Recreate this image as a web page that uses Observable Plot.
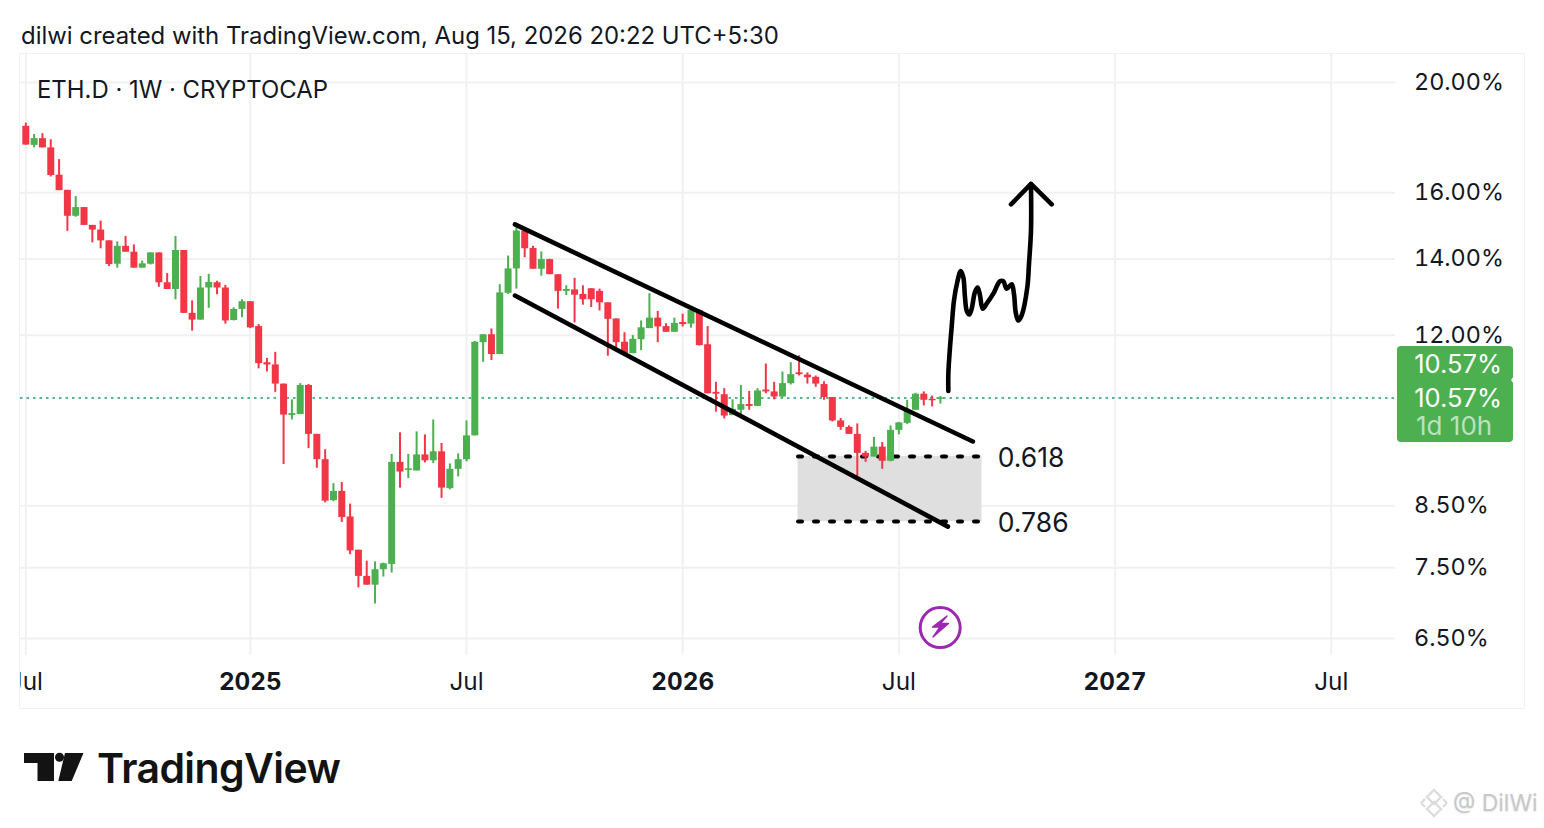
<!DOCTYPE html>
<html><head><meta charset="utf-8">
<script src="https://cdn.jsdelivr.net/npm/d3@7"></script>
<script src="https://cdn.jsdelivr.net/npm/@observablehq/plot@0.6"></script>
<style>
html,body{margin:0;padding:0;background:#fff;width:1544px;height:828px;overflow:hidden}
body{font-family:Inter,"Liberation Sans",sans-serif;color:#131722;position:relative}
.abs{position:absolute;white-space:nowrap}
#chart{left:20px;top:54px;width:1504px;height:654px;overflow:hidden}
#frame{left:19px;top:53px;width:1504px;height:654px;border:1px solid #f0f1f4;pointer-events:none}
#chart svg{overflow:hidden}
</style></head><body>
<div class="abs" style="left:21px;top:20px;font-size:23.9px;line-height:32px">dilwi created with TradingView.com, Aug 15, 2026 20:22 UTC+5:30</div>
<div class="abs" id="chart"></div>
<div class="abs" id="frame"></div>
<div class="abs" style="left:37px;top:74px;font-size:23.9px;line-height:32px">ETH.D · 1W · CRYPTOCAP</div>

<div class="abs" style="left:1397px;top:346px;width:116px;height:96px;background:#4caf50;border-radius:4px"></div>
<svg class="abs" style="left:1507px;top:374px" width="8" height="12"><path d="M7,2 L4,6 L7,10 Z" fill="#fff"/></svg>
<div class="abs" style="left:1397px;top:347px;width:105px;text-align:right;color:#fff;font-size:25.5px;line-height:34px">10.57%</div>
<div class="abs" style="left:1397px;top:381px;width:105px;text-align:right;color:#fff;font-size:25.5px;line-height:34px">10.57%</div>
<div class="abs" style="left:1416px;top:410px;color:rgba(255,255,255,.65);font-size:26px;line-height:32px">1d 10h</div>

<svg class="abs" style="left:920px;top:607px" width="40" height="40" viewBox="920 607 40 40"><path d="M947,616 L932.5,627 L940,627 L933,637 L948.5,623.5 L940.5,623.5 Z" fill="#9c27b0" stroke="#9c27b0" stroke-width="1.4" stroke-linejoin="round"/></svg>

<svg class="abs" style="left:20px;top:748px" width="70" height="38" viewBox="20 748 70 38"><path d="M24,753 H54 V781 H37.5 V763 H24 Z" fill="#131313"/><circle cx="59.5" cy="757.3" r="4.5" fill="#131313"/><path d="M65,753 H83.5 L71.7,781 H58.3 Z" fill="#131313"/></svg>
<div class="abs" style="left:97px;top:742px;font-size:41px;font-weight:600;line-height:52px;color:#131313;letter-spacing:-0.6px">TradingView</div>

<svg class="abs" style="left:1419px;top:788px" width="30" height="30" viewBox="0 0 30 30"><g fill="none" stroke="#dcdcdc" stroke-width="2.4"><path d="M15,2 L22,9 L15,16 L8,9 Z"/><path d="M15,14 L22,21 L15,28 L8,21 Z"/><path d="M2,15 L6,11 M2,15 L6,19 M28,15 L24,11 M28,15 L24,19"/></g></svg>
<div class="abs" style="left:1453px;top:788px;font-size:23px;line-height:30px;color:#c8c8c8;text-shadow:0 1px 2px #e4e4e4">@ DilWi</div>

<script>
// Weekly candles, percent dominance, first week starting 2024-07-01
const open = [
18.30,17.61,17.85,17.52,16.58,16.08,15.26,15.53,14.98,14.84,
14.52,13.85,14.36,14.19,13.74,13.85,14.17,13.34,13.16,14.24,
12.54,12.37,13.20,13.34,13.20,12.36,12.64,12.84,12.21,11.35,
11.30,10.87,10.20,10.22,10.84,9.82,9.33,8.59,8.75,8.31,
7.77,7.37,7.24,7.47,7.55,9.28,9.13,9.12,9.42,9.31,
9.48,8.80,9.15,9.33,9.79,11.82,12.01,11.54,13.06,13.72,
14.81,14.30,13.71,13.98,13.56,13.11,13.15,13.03,13.18,13.11,
12.81,12.40,11.83,11.56,11.89,12.16,12.42,12.21,12.07,12.31,
12.27,12.61,11.77,10.69,10.64,10.20,10.31,10.43,10.39,10.74,
10.70,10.59,10.88,11.12,11.07,11.02,10.86,10.58,10.09,9.96,
9.82,9.45,9.38,9.57,9.30,9.90,10.04,10.31,10.65,10.54,10.54];
const high = [
18.42,18.00,18.03,17.81,17.11,16.08,15.88,15.53,14.98,15.11,
14.52,14.49,14.65,14.40,13.94,14.17,14.17,13.59,14.65,14.24,
12.86,13.51,13.57,13.38,13.27,12.68,12.89,12.84,12.26,11.45,
11.59,10.87,10.53,10.88,10.86,9.82,9.52,8.89,8.91,8.53,
7.77,7.60,7.59,7.57,9.43,9.85,9.43,9.87,9.81,10.11,
9.64,9.25,9.44,10.09,11.85,12.01,12.15,13.29,14.08,14.98,
14.81,14.36,14.20,13.99,13.56,13.26,13.46,13.26,13.18,13.17,
12.81,12.40,12.06,11.99,12.35,13.05,12.59,12.28,12.42,12.52,
12.66,12.63,12.21,10.91,10.77,10.53,10.84,10.71,10.77,11.32,
10.91,11.14,11.35,11.51,11.12,11.05,10.92,10.58,10.14,9.99,
10.03,9.49,9.76,9.66,9.99,10.06,10.52,10.67,10.70,10.61,10.60];
const low = [
17.62,17.52,17.52,16.52,16.07,14.80,15.23,14.98,14.46,14.29,
13.79,13.74,14.19,13.74,13.74,13.83,13.22,13.16,12.89,12.54,
12.10,12.37,12.67,13.02,12.27,12.35,12.43,12.16,11.21,11.14,
10.69,9.24,10.11,10.22,9.54,9.17,8.55,8.57,8.22,7.70,
7.20,7.24,6.97,7.36,7.42,8.81,8.98,9.12,9.27,9.26,
8.63,8.78,9.01,9.29,9.79,11.36,11.40,11.54,13.03,13.17,
14.03,13.71,13.52,13.56,12.65,13.00,12.30,12.75,12.69,12.60,
11.50,11.69,11.56,11.56,11.63,12.16,11.82,12.07,12.07,12.20,
12.17,11.74,10.66,10.27,10.13,10.20,10.16,10.31,10.39,10.66,
10.53,10.57,10.85,11.05,10.87,10.80,10.52,10.07,9.90,9.82,
8.99,9.28,9.38,9.15,9.29,9.81,10.02,10.31,10.40,10.38,10.44];
const close = [
17.62,17.85,17.52,16.57,16.07,15.26,15.53,14.98,14.84,14.52,
13.84,14.36,14.19,13.74,13.86,14.17,13.34,13.16,14.24,12.54,
12.37,13.20,13.35,13.20,12.35,12.64,12.84,12.18,11.33,11.30,
10.87,10.21,10.24,10.84,9.82,9.33,8.58,8.75,8.30,7.76,
7.37,7.24,7.47,7.56,9.28,9.10,9.16,9.42,9.31,9.48,
8.81,9.15,9.33,9.79,11.83,12.01,11.54,13.07,13.72,14.81,
14.29,13.71,13.98,13.56,13.11,13.16,13.01,12.89,12.89,12.81,
12.39,11.82,11.56,11.90,12.18,12.42,12.20,12.07,12.29,12.26,
12.62,11.75,10.66,10.65,10.19,10.33,10.43,10.39,10.72,10.70,
10.59,10.88,11.08,11.08,11.01,10.87,10.58,10.09,9.96,9.82,
9.45,9.38,9.57,9.30,9.90,10.05,10.30,10.65,10.52,10.51,10.57];

const lastPrice = 10.57;
const yTicks = [20,16,14,12,8.5,7.5,6.5];
const monthTicks = ["2024-07-01","2025-07-07","2026-07-06","2027-07-05"];
const yearTicks = ["2025-01-06","2026-01-05","2027-01-04"];

// Drawing annotations, in weeks since the first candle and percent
const upperWeek = [58.83,113.9], upperPct = [15.01,9.68];
const lowerWeek = [58.83,110.9], lowerPct = [13.00,8.15];
const zoneWeek = [92.87,115.0], fib618 = 9.39, fib786 = 8.234, fibLabelWeek = 116.9;
const drawnWeek = [110.95,110.95,111.15,111.35,111.63,112.03,112.44,112.75,112.95,113.16,113.47,113.76,114.15,114.48,114.76,115.08,115.56,116.36,117.16,117.56,117.97,118.57,118.84,119.05,119.36,119.77,120.45,120.65,120.89,120.89];
const drawnPct = [10.72,11.10,11.71,12.20,12.87,13.36,13.66,13.49,12.96,12.61,12.51,12.66,13.09,13.21,13.00,12.66,12.79,13.05,13.38,13.38,13.18,13.30,13.05,12.57,12.36,12.49,13.22,13.86,14.83,16.29];
const headWeek = [118.49,120.89,123.38], headPct = [15.63,16.29,15.63];
const eventWeek = 109.97, eventPct = 6.645;

const WEEK = 7*864e5, T0 = Date.UTC(2024,6,1);
const wk = w => new Date(T0 + w*WEEK);
const d = s => new Date(s+"T00:00:00Z");

const candles = open.map((o,i)=>({date:wk(i),open:o,high:high[i],low:low[i],close:close[i]}));
const pts = (ws,ps) => ws.map((w,i)=>({x:wk(w),y:ps[i]}));
const RED="#f23645", GREEN="#4caf50", TXT="#131722", GRID="#f0f1f3";
const col = c => c.close>=c.open?GREEN:RED;
const label = t => { const s=t.toISOString(); return s.slice(5,7)==="07"?"Jul":s.slice(0,4); };

const plot = Plot.plot({
  width:1504, height:654, marginLeft:0, marginRight:129, marginTop:0, marginBottom:53,
  style:{fontFamily:'Inter,"Liberation Sans",sans-serif',background:"transparent"},
  x:{type:"utc",domain:[wk(-0.64),wk(164.73)]},
  y:{type:"log",domain:[6.281,21.16]},
  marks:[
    Plot.gridX([...monthTicks,...yearTicks].map(d),{stroke:GRID,strokeOpacity:1,strokeWidth:2}),
    Plot.gridY(yTicks,{stroke:GRID,strokeOpacity:1,strokeWidth:2}),
    Plot.rect([0],{x1:()=>wk(zoneWeek[0]),x2:()=>wk(zoneWeek[1]),y1:()=>fib618,y2:()=>fib786,fill:"#dfdfdf"}),
    Plot.line(pts(zoneWeek,[fib618,fib618]),{x:"x",y:"y",stroke:"#000",strokeWidth:4,strokeDasharray:"4 12"}),
    Plot.line(pts(zoneWeek,[fib786,fib786]),{x:"x",y:"y",stroke:"#000",strokeWidth:4,strokeDasharray:"4 12"}),
    Plot.ruleY([lastPrice],{stroke:"#1e9e6a",strokeWidth:1.6,strokeDasharray:"2.5 4"}),
    Plot.ruleX(candles,{x:"date",y1:"low",y2:"high",stroke:col,strokeWidth:2}),
    Plot.ruleX(candles,{x:"date",y1:"open",y2:"close",stroke:col,strokeWidth:7}),
    Plot.line(pts(upperWeek,upperPct),{x:"x",y:"y",stroke:"#000",strokeWidth:4.6,strokeLinecap:"round"}),
    Plot.line(pts(lowerWeek,lowerPct),{x:"x",y:"y",stroke:"#000",strokeWidth:4.6,strokeLinecap:"round"}),
    Plot.line(pts(drawnWeek,drawnPct),{x:"x",y:"y",stroke:"#000",strokeWidth:4.6,curve:"catmull-rom",strokeLinecap:"round",strokeLinejoin:"round"}),
    Plot.line(pts(headWeek,headPct),{x:"x",y:"y",stroke:"#000",strokeWidth:4.6,strokeLinecap:"round",strokeLinejoin:"round"}),
    Plot.dot(pts([eventWeek],[eventPct]),{x:"x",y:"y",r:20,stroke:"#9c27b0",strokeWidth:3,fill:"#fff"}),
    Plot.text(pts([fibLabelWeek,fibLabelWeek],[fib618,fib786]),{x:"x",y:"y",text:(p,i)=>["0.618","0.786"][i],textAnchor:"start",fontSize:26.5,fill:TXT,dy:2}),
    Plot.axisY(yTicks,{anchor:"right",tickSize:0,tickPadding:18.5,fontSize:23.4,fill:TXT,label:null,textAnchor:"start",tickFormat:v=>v.toFixed(2)+"%"}),
    Plot.axisX(monthTicks.map(d),{anchor:"bottom",tickSize:0,tickPadding:17,fontSize:24.3,fill:TXT,label:null,tickFormat:label}),
    Plot.axisX(yearTicks.map(d),{anchor:"bottom",tickSize:0,tickPadding:17,fontSize:24.3,fontWeight:700,fill:TXT,label:null,tickFormat:label})
  ]
});
document.getElementById("chart").appendChild(plot);
</script>
</body></html>
